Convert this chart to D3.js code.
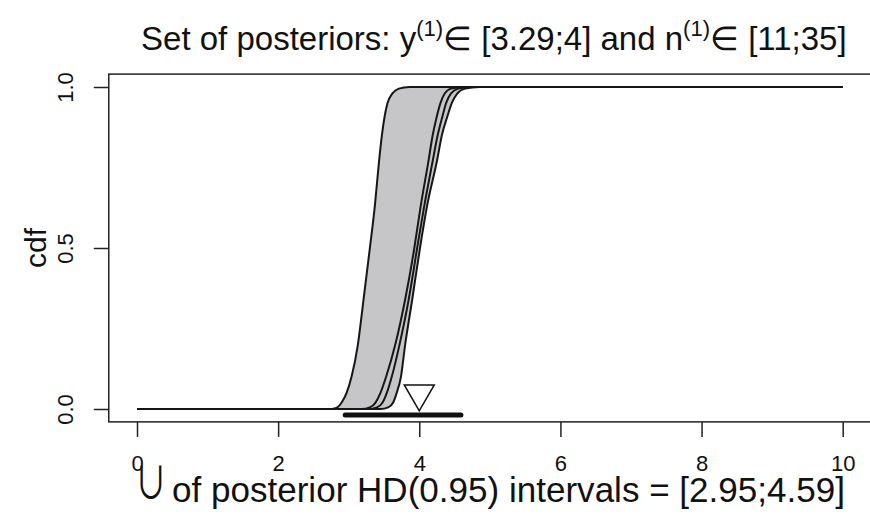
<!DOCTYPE html>
<html>
<head>
<meta charset="utf-8">
<script src="https://cdn.jsdelivr.net/npm/d3@7"></script>
<style>
  body { margin: 0; background: #fff; }
  text { font-family: "Liberation Sans", Arial, Helvetica, sans-serif; fill: #111; }
</style>
</head>
<body>
<div id="chart"></div>
<script>
// cdf levels shared by every posterior curve
const cdfLevels = [0, 0.005, 0.02, 0.05, 0.1, 0.2, 0.34, 0.5, 0.63, 0.77, 0.85, 0.91, 0.95, 0.98, 0.995, 1];

// x position of each posterior cdf at the levels above
const postA = [2.76, 2.84, 2.90, 2.97, 3.04, 3.13, 3.21, 3.30, 3.37, 3.43, 3.47, 3.51, 3.55, 3.62, 3.71, 3.86];
const postB = [3.18, 3.30, 3.38, 3.45, 3.53, 3.66, 3.80, 3.93, 4.02, 4.13, 4.19, 4.25, 4.30, 4.36, 4.45, 4.62];
const postC = [3.28, 3.40, 3.48, 3.54, 3.61, 3.72, 3.85, 3.97, 4.07, 4.19, 4.26, 4.33, 4.38, 4.45, 4.55, 4.72];
const postD = [3.45, 3.56, 3.63, 3.68, 3.74, 3.80, 3.90, 4.01, 4.11, 4.25, 4.32, 4.40, 4.46, 4.54, 4.65, 4.85];

const xRange = [0, 10];
const xTicks = [0, 2, 4, 6, 8, 10];
const yTicks = [0, 0.5, 1];

// union of HD intervals and the marked point
const hdInterval = [2.95, 4.59];
const hdLevel = -0.019;
const marker = { x: 4, c: 0.048 };

const width = 870, height = 515;

const svg = d3.select("#chart")
    .append("svg")
    .attr("width", width)
    .attr("height", height);

// Scales (R style: 4% padding around the data range)
const x = d3.scaleLinear().domain([0, 10]).range([137, 842.7]);
const y = d3.scaleLinear().domain([0, 1]).range([409, 87]);
const x0 = x(-0.4), x1 = x(10.4), yTop = y(1.04), yBot = y(-0.04);

// build full curve points: flat at 0, rise, flat at 1
function curvePoints(xs) {
    const pts = [{ x: xRange[0], c: 0 }];
    xs.forEach((v, i) => pts.push({ x: v, c: cdfLevels[i] }));
    pts.push({ x: xRange[1], c: 1 });
    return pts;
}
const curves = [postA, postB, postC, postD].map(curvePoints);

const line = d3.line()
    .x(d => x(d.x))
    .y(d => y(d.c))
    .curve(d3.curveMonotoneX);

// Clip: region above the rightmost curve
svg.append("clipPath")
    .attr("id", "aboveD")
    .append("path")
    .attr("d", d3.area()
        .x(d => x(d.x))
        .y0(yTop - 5)
        .y1(d => y(d.c))
        .curve(d3.curveMonotoneX)(curves[3]));

// Gray band: below the leftmost curve and above the rightmost one
svg.append("path")
    .attr("d", d3.area()
        .x(d => x(d.x))
        .y0(y(0))
        .y1(d => y(d.c))
        .curve(d3.curveMonotoneX)(curves[0]))
    .attr("fill", "#c6c6c8")
    .attr("clip-path", "url(#aboveD)");

// Posterior curves
svg.selectAll(".post")
    .data(curves)
    .enter()
    .append("path")
        .attr("class", "post")
        .attr("d", line)
        .attr("fill", "none")
        .attr("stroke", "#161616")
        .attr("stroke-width", 2);

// HD interval bar
svg.append("line")
    .attr("x1", x(hdInterval[0]))
    .attr("x2", x(hdInterval[1]))
    .attr("y1", y(hdLevel))
    .attr("y2", y(hdLevel))
    .attr("stroke", "#111")
    .attr("stroke-width", 5)
    .attr("stroke-linecap", "round");

// Down triangle
svg.append("path")
    .attr("d", d3.symbol().type(d3.symbolTriangle).size(390)())
    .attr("transform", `translate(${x(marker.x)},${y(marker.c)}) rotate(180)`)
    .attr("fill", "none")
    .attr("stroke", "#111")
    .attr("stroke-width", 1.5);

// Box
svg.append("rect")
    .attr("x", x0).attr("y", yTop)
    .attr("width", x1 - x0).attr("height", yBot - yTop)
    .attr("fill", "none")
    .attr("stroke", "#222")
    .attr("stroke-width", 1.5);

// X axis
const gx = svg.append("g")
    .attr("transform", `translate(0,${yBot})`)
    .call(d3.axisBottom(x).tickValues(xTicks).tickSize(15).tickSizeOuter(0));
gx.attr("font-size", 22).attr("font-family", null);
gx.select(".domain").remove();
gx.selectAll(".tick line").attr("stroke", "#222").attr("stroke-width", 1.5);
gx.selectAll(".tick text")
    .attr("y", 49).attr("dy", 0)
    .attr("fill", "#111");

// Y axis
const gy = svg.append("g")
    .attr("transform", `translate(${x0},0)`)
    .call(d3.axisLeft(y).tickValues(yTicks).tickSize(15).tickSizeOuter(0).tickFormat(d3.format(".1f")));
gy.attr("font-size", 22).attr("font-family", null);
gy.select(".domain").remove();
gy.selectAll(".tick line").attr("stroke", "#222").attr("stroke-width", 1.5);
gy.selectAll(".tick text")
    .attr("x", 0).attr("dy", 0)
    .attr("text-anchor", "middle")
    .attr("transform", `translate(${73 - x0},0) rotate(-90)`)
    .attr("fill", "#111");

// Y label
svg.append("text")
    .attr("transform", `translate(46,${y(0.5)}) rotate(-90)`)
    .attr("text-anchor", "middle")
    .style("font-size", "30px")
    .text("cdf");

// Title with superscripts
const title = svg.append("text")
    .attr("x", (x0 + x1) / 2 + 4)
    .attr("y", 50)
    .attr("text-anchor", "middle")
    .style("font-size", "33px");
title.append("tspan").text("Set of posteriors: y");
title.append("tspan").attr("dy", -14).style("font-size", "22px").text("(1)");
title.append("tspan").attr("dy", 14).text("\u2208 [3.29;4] and n");
title.append("tspan").attr("dy", -14).style("font-size", "22px").text("(1)");
title.append("tspan").attr("dy", 14).text("\u2208 [11;35]");

// X label: big union sign, then the text
svg.append("text")
    .attr("transform", "translate(151,499) scale(0.95,1.3)")
    .attr("text-anchor", "middle")
    .style("font-family", "'Noto Sans CJK JP', 'DejaVu Sans', sans-serif")
    .style("font-size", "34px")
    .text("\u222A");
svg.append("text")
    .attr("x", 172)
    .attr("y", 502)
    .attr("text-anchor", "start")
    .attr("textLength", 673)
    .attr("lengthAdjust", "spacingAndGlyphs")
    .style("font-size", "35px")
    .text("of posterior HD(0.95) intervals = [2.95;4.59]");
</script>
</body>
</html>
